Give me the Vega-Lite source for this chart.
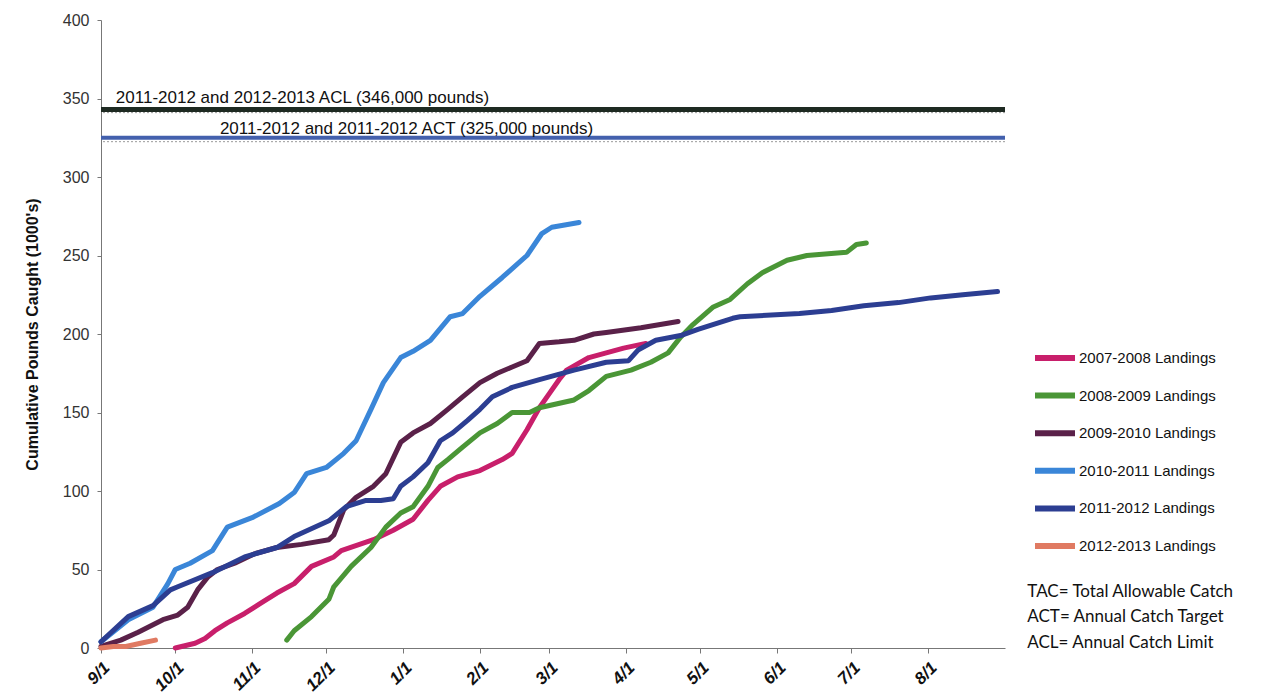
{
  "$schema": "https://vega.github.io/schema/vega-lite/v6.json",
  "autosize": {"type": "none"},
  "padding": {"left": 101, "top": 20, "right": 279, "bottom": 46},
  "width": 904,
  "height": 628,
  "background": "white",
  "config": {
    "view": {"stroke": null},
    "font": "Liberation Sans"
  },
  "layer": [
    {
      "data": {"values": [{"value": 341}]},
      "mark": {"type": "rule", "color": "#9a9a9a", "strokeWidth": 1, "strokeDash": [2, 2]},
      "encoding": {"y": {"field": "value", "type": "quantitative"}}
    },
    {
      "data": {"values": [{"value": 322.5}]},
      "mark": {"type": "rule", "color": "#9a9a9a", "strokeWidth": 1, "strokeDash": [2, 2]},
      "encoding": {"y": {"field": "value", "type": "quantitative"}}
    },
    {
      "data": {"values": [{"limit": "ACL", "value": 343}]},
      "mark": {"type": "rule", "color": "#1e2a22", "strokeWidth": 5},
      "encoding": {"y": {"field": "value", "type": "quantitative"}}
    },
    {
      "data": {"values": [{"limit": "ACT", "value": 325}]},
      "mark": {"type": "rule", "color": "#4360ad", "strokeWidth": 4},
      "encoding": {"y": {"field": "value", "type": "quantitative"}}
    },
    {
      "data": {"values": [
        {"date": "2010/09/07", "value": 347, "label": "2011-2012  and 2012-2013 ACL (346,000 pounds)"},
        {"date": "2010/10/19", "value": 327.5, "label": "2011-2012 and 2011-2012 ACT (325,000 pounds)"}
      ]},
      "mark": {"type": "text", "align": "left", "baseline": "alphabetic", "fontSize": 17, "color": "#111111", "font": "Liberation Sans"},
      "encoding": {
        "x": {"field": "date", "type": "temporal"},
        "y": {"field": "value", "type": "quantitative"},
        "text": {"field": "label"}
      }
    },
    {
      "data": {"values": [
        {"series": "2007-2008 Landings", "date": "2010/10/01", "value": 0},
        {"series": "2007-2008 Landings", "date": "2010/10/09", "value": 3},
        {"series": "2007-2008 Landings", "date": "2010/10/13", "value": 6},
        {"series": "2007-2008 Landings", "date": "2010/10/17", "value": 11},
        {"series": "2007-2008 Landings", "date": "2010/10/22", "value": 16},
        {"series": "2007-2008 Landings", "date": "2010/10/29", "value": 22},
        {"series": "2007-2008 Landings", "date": "2010/11/05", "value": 29},
        {"series": "2007-2008 Landings", "date": "2010/11/11", "value": 35},
        {"series": "2007-2008 Landings", "date": "2010/11/18", "value": 41},
        {"series": "2007-2008 Landings", "date": "2010/11/25", "value": 52},
        {"series": "2007-2008 Landings", "date": "2010/12/04", "value": 58},
        {"series": "2007-2008 Landings", "date": "2010/12/07", "value": 62},
        {"series": "2007-2008 Landings", "date": "2010/12/20", "value": 69},
        {"series": "2007-2008 Landings", "date": "2010/12/28", "value": 75},
        {"series": "2007-2008 Landings", "date": "2011/01/05", "value": 82},
        {"series": "2007-2008 Landings", "date": "2011/01/11", "value": 94},
        {"series": "2007-2008 Landings", "date": "2011/01/16", "value": 103},
        {"series": "2007-2008 Landings", "date": "2011/01/23", "value": 109},
        {"series": "2007-2008 Landings", "date": "2011/02/01", "value": 113},
        {"series": "2007-2008 Landings", "date": "2011/02/10", "value": 120},
        {"series": "2007-2008 Landings", "date": "2011/02/14", "value": 124},
        {"series": "2007-2008 Landings", "date": "2011/02/20", "value": 139},
        {"series": "2007-2008 Landings", "date": "2011/02/25", "value": 153},
        {"series": "2007-2008 Landings", "date": "2011/03/01", "value": 162},
        {"series": "2007-2008 Landings", "date": "2011/03/05", "value": 171},
        {"series": "2007-2008 Landings", "date": "2011/03/08", "value": 177},
        {"series": "2007-2008 Landings", "date": "2011/03/17", "value": 185},
        {"series": "2007-2008 Landings", "date": "2011/03/31", "value": 191},
        {"series": "2007-2008 Landings", "date": "2011/04/09", "value": 194},

        {"series": "2008-2009 Landings", "date": "2010/11/15", "value": 5},
        {"series": "2008-2009 Landings", "date": "2010/11/18", "value": 11},
        {"series": "2008-2009 Landings", "date": "2010/11/25", "value": 20},
        {"series": "2008-2009 Landings", "date": "2010/12/02", "value": 31},
        {"series": "2008-2009 Landings", "date": "2010/12/04", "value": 39},
        {"series": "2008-2009 Landings", "date": "2010/12/11", "value": 52},
        {"series": "2008-2009 Landings", "date": "2010/12/19", "value": 64},
        {"series": "2008-2009 Landings", "date": "2010/12/25", "value": 77},
        {"series": "2008-2009 Landings", "date": "2010/12/31", "value": 86},
        {"series": "2008-2009 Landings", "date": "2011/01/05", "value": 90},
        {"series": "2008-2009 Landings", "date": "2011/01/11", "value": 103},
        {"series": "2008-2009 Landings", "date": "2011/01/15", "value": 115},
        {"series": "2008-2009 Landings", "date": "2011/01/19", "value": 120},
        {"series": "2008-2009 Landings", "date": "2011/01/25", "value": 128},
        {"series": "2008-2009 Landings", "date": "2011/02/01", "value": 137},
        {"series": "2008-2009 Landings", "date": "2011/02/08", "value": 143},
        {"series": "2008-2009 Landings", "date": "2011/02/14", "value": 150},
        {"series": "2008-2009 Landings", "date": "2011/02/21", "value": 150},
        {"series": "2008-2009 Landings", "date": "2011/02/25", "value": 153},
        {"series": "2008-2009 Landings", "date": "2011/03/11", "value": 158},
        {"series": "2008-2009 Landings", "date": "2011/03/17", "value": 164},
        {"series": "2008-2009 Landings", "date": "2011/03/24", "value": 173},
        {"series": "2008-2009 Landings", "date": "2011/04/03", "value": 177},
        {"series": "2008-2009 Landings", "date": "2011/04/11", "value": 182},
        {"series": "2008-2009 Landings", "date": "2011/04/18", "value": 188},
        {"series": "2008-2009 Landings", "date": "2011/04/23", "value": 198},
        {"series": "2008-2009 Landings", "date": "2011/04/28", "value": 206},
        {"series": "2008-2009 Landings", "date": "2011/05/06", "value": 217},
        {"series": "2008-2009 Landings", "date": "2011/05/13", "value": 222},
        {"series": "2008-2009 Landings", "date": "2011/05/20", "value": 232},
        {"series": "2008-2009 Landings", "date": "2011/05/26", "value": 239},
        {"series": "2008-2009 Landings", "date": "2011/06/05", "value": 247},
        {"series": "2008-2009 Landings", "date": "2011/06/13", "value": 250},
        {"series": "2008-2009 Landings", "date": "2011/06/29", "value": 252},
        {"series": "2008-2009 Landings", "date": "2011/07/03", "value": 257},
        {"series": "2008-2009 Landings", "date": "2011/07/07", "value": 258},

        {"series": "2009-2010 Landings", "date": "2010/09/01", "value": 1},
        {"series": "2009-2010 Landings", "date": "2010/09/09", "value": 5},
        {"series": "2009-2010 Landings", "date": "2010/09/16", "value": 10},
        {"series": "2009-2010 Landings", "date": "2010/09/26", "value": 18},
        {"series": "2009-2010 Landings", "date": "2010/10/02", "value": 21},
        {"series": "2009-2010 Landings", "date": "2010/10/06", "value": 26},
        {"series": "2009-2010 Landings", "date": "2010/10/10", "value": 37},
        {"series": "2009-2010 Landings", "date": "2010/10/14", "value": 45},
        {"series": "2009-2010 Landings", "date": "2010/10/18", "value": 50},
        {"series": "2009-2010 Landings", "date": "2010/10/25", "value": 54},
        {"series": "2009-2010 Landings", "date": "2010/11/02", "value": 60},
        {"series": "2009-2010 Landings", "date": "2010/11/11", "value": 64},
        {"series": "2009-2010 Landings", "date": "2010/11/21", "value": 66},
        {"series": "2009-2010 Landings", "date": "2010/12/02", "value": 69},
        {"series": "2009-2010 Landings", "date": "2010/12/04", "value": 72},
        {"series": "2009-2010 Landings", "date": "2010/12/08", "value": 88},
        {"series": "2009-2010 Landings", "date": "2010/12/13", "value": 96},
        {"series": "2009-2010 Landings", "date": "2010/12/20", "value": 103},
        {"series": "2009-2010 Landings", "date": "2010/12/25", "value": 111},
        {"series": "2009-2010 Landings", "date": "2010/12/31", "value": 131},
        {"series": "2009-2010 Landings", "date": "2011/01/05", "value": 137},
        {"series": "2009-2010 Landings", "date": "2011/01/12", "value": 143},
        {"series": "2009-2010 Landings", "date": "2011/01/19", "value": 152},
        {"series": "2009-2010 Landings", "date": "2011/01/25", "value": 160},
        {"series": "2009-2010 Landings", "date": "2011/02/01", "value": 169},
        {"series": "2009-2010 Landings", "date": "2011/02/08", "value": 175},
        {"series": "2009-2010 Landings", "date": "2011/02/14", "value": 179},
        {"series": "2009-2010 Landings", "date": "2011/02/20", "value": 183},
        {"series": "2009-2010 Landings", "date": "2011/02/25", "value": 194},
        {"series": "2009-2010 Landings", "date": "2011/03/05", "value": 195},
        {"series": "2009-2010 Landings", "date": "2011/03/11", "value": 196},
        {"series": "2009-2010 Landings", "date": "2011/03/19", "value": 200},
        {"series": "2009-2010 Landings", "date": "2011/03/24", "value": 201},
        {"series": "2009-2010 Landings", "date": "2011/04/07", "value": 204},
        {"series": "2009-2010 Landings", "date": "2011/04/22", "value": 208},

        {"series": "2010-2011 Landings", "date": "2010/09/01", "value": 4},
        {"series": "2010-2011 Landings", "date": "2010/09/12", "value": 18},
        {"series": "2010-2011 Landings", "date": "2010/09/22", "value": 26},
        {"series": "2010-2011 Landings", "date": "2010/09/28", "value": 41},
        {"series": "2010-2011 Landings", "date": "2010/10/01", "value": 50},
        {"series": "2010-2011 Landings", "date": "2010/10/07", "value": 54},
        {"series": "2010-2011 Landings", "date": "2010/10/16", "value": 62},
        {"series": "2010-2011 Landings", "date": "2010/10/22", "value": 77},
        {"series": "2010-2011 Landings", "date": "2010/11/01", "value": 83},
        {"series": "2010-2011 Landings", "date": "2010/11/12", "value": 92},
        {"series": "2010-2011 Landings", "date": "2010/11/18", "value": 99},
        {"series": "2010-2011 Landings", "date": "2010/11/23", "value": 111},
        {"series": "2010-2011 Landings", "date": "2010/12/01", "value": 115},
        {"series": "2010-2011 Landings", "date": "2010/12/08", "value": 124},
        {"series": "2010-2011 Landings", "date": "2010/12/13", "value": 132},
        {"series": "2010-2011 Landings", "date": "2010/12/19", "value": 152},
        {"series": "2010-2011 Landings", "date": "2010/12/24", "value": 169},
        {"series": "2010-2011 Landings", "date": "2010/12/31", "value": 185},
        {"series": "2010-2011 Landings", "date": "2011/01/05", "value": 189},
        {"series": "2010-2011 Landings", "date": "2011/01/12", "value": 196},
        {"series": "2010-2011 Landings", "date": "2011/01/20", "value": 211},
        {"series": "2010-2011 Landings", "date": "2011/01/25", "value": 213},
        {"series": "2010-2011 Landings", "date": "2011/02/01", "value": 224},
        {"series": "2010-2011 Landings", "date": "2011/02/10", "value": 236},
        {"series": "2010-2011 Landings", "date": "2011/02/20", "value": 250},
        {"series": "2010-2011 Landings", "date": "2011/02/26", "value": 264},
        {"series": "2010-2011 Landings", "date": "2011/03/02", "value": 268},
        {"series": "2010-2011 Landings", "date": "2011/03/13", "value": 271},

        {"series": "2011-2012 Landings", "date": "2010/09/01", "value": 4},
        {"series": "2011-2012 Landings", "date": "2010/09/12", "value": 20},
        {"series": "2011-2012 Landings", "date": "2010/09/22", "value": 27},
        {"series": "2011-2012 Landings", "date": "2010/09/29", "value": 37},
        {"series": "2011-2012 Landings", "date": "2010/10/02", "value": 39},
        {"series": "2011-2012 Landings", "date": "2010/10/16", "value": 48},
        {"series": "2011-2012 Landings", "date": "2010/10/29", "value": 58},
        {"series": "2011-2012 Landings", "date": "2010/11/11", "value": 64},
        {"series": "2011-2012 Landings", "date": "2010/11/18", "value": 71},
        {"series": "2011-2012 Landings", "date": "2010/12/02", "value": 81},
        {"series": "2011-2012 Landings", "date": "2010/12/09", "value": 90},
        {"series": "2011-2012 Landings", "date": "2010/12/17", "value": 94},
        {"series": "2011-2012 Landings", "date": "2010/12/23", "value": 94},
        {"series": "2011-2012 Landings", "date": "2010/12/28", "value": 95},
        {"series": "2011-2012 Landings", "date": "2010/12/31", "value": 103},
        {"series": "2011-2012 Landings", "date": "2011/01/05", "value": 109},
        {"series": "2011-2012 Landings", "date": "2011/01/11", "value": 118},
        {"series": "2011-2012 Landings", "date": "2011/01/16", "value": 132},
        {"series": "2011-2012 Landings", "date": "2011/01/21", "value": 137},
        {"series": "2011-2012 Landings", "date": "2011/01/27", "value": 145},
        {"series": "2011-2012 Landings", "date": "2011/02/01", "value": 152},
        {"series": "2011-2012 Landings", "date": "2011/02/06", "value": 160},
        {"series": "2011-2012 Landings", "date": "2011/02/14", "value": 166},
        {"series": "2011-2012 Landings", "date": "2011/02/25", "value": 171},
        {"series": "2011-2012 Landings", "date": "2011/03/11", "value": 177},
        {"series": "2011-2012 Landings", "date": "2011/03/24", "value": 182},
        {"series": "2011-2012 Landings", "date": "2011/04/02", "value": 183},
        {"series": "2011-2012 Landings", "date": "2011/04/06", "value": 190},
        {"series": "2011-2012 Landings", "date": "2011/04/13", "value": 196},
        {"series": "2011-2012 Landings", "date": "2011/04/23", "value": 199},
        {"series": "2011-2012 Landings", "date": "2011/04/30", "value": 203},
        {"series": "2011-2012 Landings", "date": "2011/05/14", "value": 210},
        {"series": "2011-2012 Landings", "date": "2011/05/17", "value": 211},
        {"series": "2011-2012 Landings", "date": "2011/06/10", "value": 213},
        {"series": "2011-2012 Landings", "date": "2011/06/23", "value": 215},
        {"series": "2011-2012 Landings", "date": "2011/07/06", "value": 218},
        {"series": "2011-2012 Landings", "date": "2011/07/20", "value": 220},
        {"series": "2011-2012 Landings", "date": "2011/08/02", "value": 223},
        {"series": "2011-2012 Landings", "date": "2011/08/15", "value": 225},
        {"series": "2011-2012 Landings", "date": "2011/08/29", "value": 227},

        {"series": "2012-2013 Landings", "date": "2010/09/01", "value": 0},
        {"series": "2012-2013 Landings", "date": "2010/09/06", "value": 1},
        {"series": "2012-2013 Landings", "date": "2010/09/11", "value": 1},
        {"series": "2012-2013 Landings", "date": "2010/09/17", "value": 3},
        {"series": "2012-2013 Landings", "date": "2010/09/23", "value": 5}
      ]},
      "mark": {"type": "line", "strokeWidth": 5, "strokeJoin": "round", "strokeCap": "round"},
      "encoding": {
        "x": {
          "field": "date",
          "type": "temporal",
          "scale": {"domain": [{"year": 2010, "month": "sep", "date": 1}, {"year": 2011, "month": "sep", "date": 1}], "nice": false},
          "axis": {
            "title": null,
            "format": "%-m/%-d",
            "values": [
              {"year": 2010, "month": "sep", "date": 1},
              {"year": 2010, "month": "oct", "date": 1},
              {"year": 2010, "month": "nov", "date": 1},
              {"year": 2010, "month": "dec", "date": 1},
              {"year": 2011, "month": "jan", "date": 1},
              {"year": 2011, "month": "feb", "date": 1},
              {"year": 2011, "month": "mar", "date": 1},
              {"year": 2011, "month": "apr", "date": 1},
              {"year": 2011, "month": "may", "date": 1},
              {"year": 2011, "month": "jun", "date": 1},
              {"year": 2011, "month": "jul", "date": 1},
              {"year": 2011, "month": "aug", "date": 1}
            ],
            "labelAngle": -45,
            "labelFontSize": 17,
            "labelFontWeight": "bold",
            "labelFontStyle": "italic",
            "labelColor": "#111111",
            "domainColor": "#777777",
            "tickColor": "#777777",
            "tickSize": 5,
            "grid": false,
            "labelPadding": 6
          }
        },
        "y": {
          "field": "value",
          "type": "quantitative",
          "scale": {"domain": [0, 400], "nice": false},
          "axis": {
            "title": "Cumulative Pounds Caught (1000's)",
            "titleFontSize": 16,
            "titleFontWeight": "bold",
            "titleColor": "#111111",
            "titlePadding": 22,
            "values": [0, 50, 100, 150, 200, 250, 300, 350, 400],
            "labelFontSize": 16,
            "labelColor": "#333333",
            "domainColor": "#777777",
            "tickColor": "#777777",
            "tickSize": 4,
            "grid": false,
            "labelPadding": 8
          }
        },
        "color": {
          "field": "series",
          "type": "nominal",
          "scale": {
            "domain": ["2007-2008 Landings", "2008-2009 Landings", "2009-2010 Landings", "2010-2011 Landings", "2011-2012 Landings", "2012-2013 Landings"],
            "range": ["#c81f6b", "#4a9636", "#5a2149", "#3a86d8", "#2c3e92", "#e07a62"]
          },
          "legend": {
            "orient": "none",
            "legendX": 931,
            "legendY": 315,
            "title": null,
            "symbolType": "stroke",
            "symbolSize": 1600,
            "symbolStrokeWidth": 6,
            "labelFontSize": 15,
            "labelColor": "#111111",
            "labelOffset": 1,
            "rowPadding": 2.6
          }
        }
      }
    },
    {
      "data": {"values": [
        {"date": "2011/09/10", "value": 35.5, "label": "TAC= Total Allowable Catch"},
        {"date": "2011/09/10", "value": 19.5, "label": "ACT= Annual Catch Target"},
        {"date": "2011/09/10", "value": 3.5, "label": "ACL= Annual Catch Limit"}
      ]},
      "mark": {"type": "text", "align": "left", "baseline": "middle", "fontSize": 17, "font": "Lato", "color": "#111111"},
      "encoding": {
        "x": {"field": "date", "type": "temporal"},
        "y": {"field": "value", "type": "quantitative"},
        "text": {"field": "label"}
      }
    }
  ]
}
